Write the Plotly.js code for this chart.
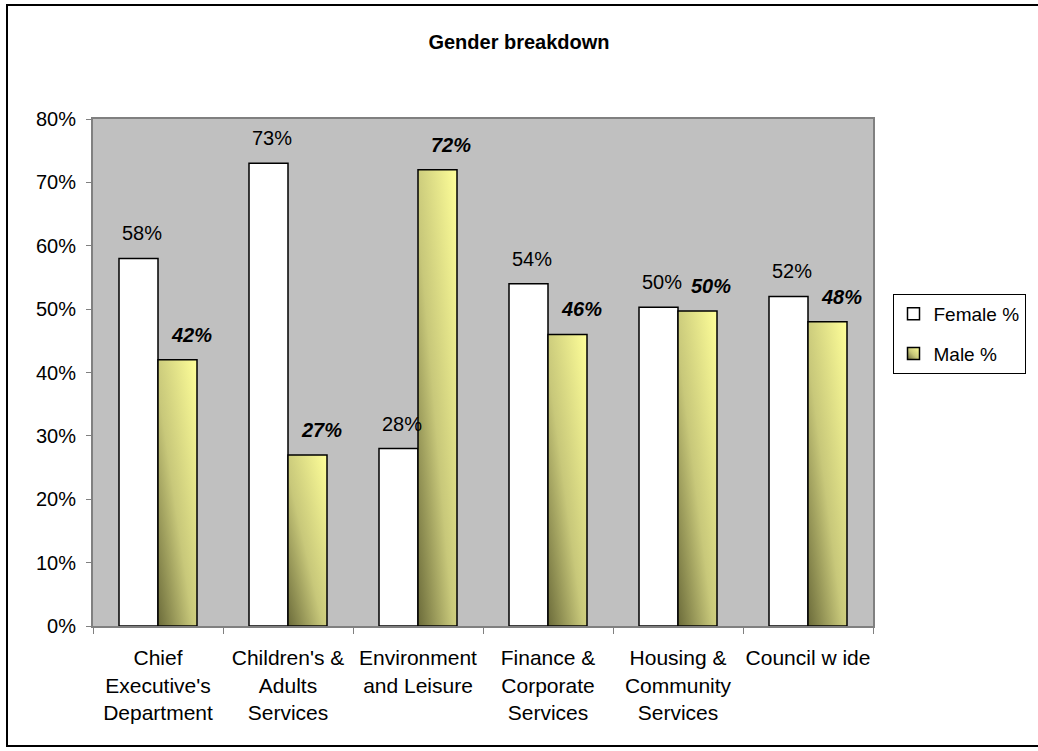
<!DOCTYPE html>
<html><head><meta charset="utf-8">
<script src="https://cdn.plot.ly/plotly-3.0.1.min.js"></script>
<style>
html,body{margin:0;padding:0;background:#fff;overflow:hidden}
#wrap{position:relative;width:1038px;height:751px;overflow:hidden}
#chart{position:absolute;left:0;top:0;width:1038px;height:751px}
#frame{position:absolute;left:6px;top:4px;width:1050px;height:743px;border:2px solid #000;box-sizing:border-box;pointer-events:none}
</style></head><body>
<div id="wrap"><div id="chart"></div><div id="frame"></div></div>
<script>
const categories = [
  "Chief<br>Executive's<br>Department",
  "Children's &<br>Adults<br>Services",
  "Environment<br>and Leisure",
  "Finance &<br>Corporate<br>Services",
  "Housing &<br>Community<br>Services",
  "Council w ide"
];
const femalePct = [58, 73, 28, 54, 50.3, 52];
const malePct = [42, 27, 72, 46, 49.7, 48];
const femaleLabels = ["58%", "73%", "28%", "54%", "50%", "52%"];
const maleLabels = ["42%", "27%", "72%", "46%", "50%", "48%"];
const seriesNames = ["Female %", "Male %"];
const chartTitle = "Gender breakdown";

const FONT = "Liberation Sans, Arial, sans-serif";

const data = [
  {type: "bar", name: seriesNames[0], x: categories, y: femalePct, legendgroup: "f",
   marker: {color: "#FFFFFF", line: {color: "#000000", width: 1.5}}, hoverinfo: "skip"},
  {type: "bar", name: seriesNames[1], x: categories, y: malePct, legendgroup: "m",
   marker: {color: "#D4D482", line: {color: "#000000", width: 1.5}}, hoverinfo: "skip"}
];

const annotations = [];
categories.forEach((c, i) => {
  annotations.push({x: c, y: femalePct[i], xref: "x", yref: "y", text: femaleLabels[i],
    showarrow: false, xshift: -16, yshift: 25, yanchor: "middle",
    font: {family: FONT, size: 20, color: "#000"}});
  annotations.push({x: c, y: malePct[i], xref: "x", yref: "y", text: "<b><i>" + maleLabels[i] + "</i></b>",
    showarrow: false, xshift: 33, yshift: 25, yanchor: "middle",
    font: {family: FONT, size: 20, color: "#000"}});
});

const layout = {
  width: 1038, height: 751,
  margin: {l: 93, r: 145, t: 119, b: 125, pad: 0},
  paper_bgcolor: "#FFFFFF",
  plot_bgcolor: "#C0C0C0",
  font: {family: FONT, size: 20, color: "#000"},
  title: {text: "<b>" + chartTitle + "</b>", x: 0.5, xref: "container", xanchor: "center",
          y: 1 - 42 / 751, yref: "container", yanchor: "middle",
          font: {family: FONT, size: 20, color: "#000"}},
  barmode: "group", bargap: 0.4, bargroupgap: 0,
  xaxis: {type: "category", tickson: "boundaries", ticks: "outside", ticklen: 6, tickcolor: "#808080",
          showline: true, linecolor: "#808080", linewidth: 2, mirror: true, showgrid: false, tickangle: 0,
          tickfont: {family: FONT, size: 21, color: "#000"}, ticklabelstandoff: 12, fixedrange: true},
  yaxis: {range: [0, 80], dtick: 10, ticksuffix: "%", ticks: "outside", ticklen: 5, tickcolor: "#808080",
          showline: true, linecolor: "#808080", linewidth: 2, mirror: true, showgrid: false, zeroline: false,
          tickfont: {family: FONT, size: 20, color: "#000"}, ticklabelstandoff: 6, fixedrange: true},
  legend: {x: 1.025, xanchor: "left", y: (626 - 294) / 507, yanchor: "top",
           bgcolor: "#FFFFFF", bordercolor: "#000000", borderwidth: 1,
           font: {family: FONT, size: 19, color: "#000"}, tracegroupgap: 12, traceorder: "grouped"},
  annotations: annotations,
  showlegend: true
};

Plotly.newPlot("chart", data, layout, {staticPlot: true, displayModeBar: false}).then(gd => {
  const ns = "http://www.w3.org/2000/svg";
  const svg = gd.querySelector(".main-svg");
  let defs = svg.querySelector("defs");
  if (!defs) { defs = document.createElementNS(ns, "defs"); svg.insertBefore(defs, svg.firstChild); }
  const lg = document.createElementNS(ns, "linearGradient");
  lg.setAttribute("id", "maleGrad");
  lg.setAttribute("x1", "0"); lg.setAttribute("y1", "1");
  lg.setAttribute("x2", "1"); lg.setAttribute("y2", "0");
  [["0", "#6B6B3A"], ["0.45", "#C8C87A"], ["1", "#FFFF99"]].forEach(s => {
    const st = document.createElementNS(ns, "stop");
    st.setAttribute("offset", s[0]); st.setAttribute("stop-color", s[1]);
    lg.appendChild(st);
  });
  defs.appendChild(lg);
  const traces = gd.querySelectorAll(".barlayer .trace");
  if (traces[1]) traces[1].querySelectorAll("path").forEach(p => { p.style.fill = "url(#maleGrad)"; });
  const ltr = gd.querySelectorAll(".legend .traces");
  if (ltr[1]) ltr[1].querySelectorAll(".legendpoints path").forEach(p => { p.style.fill = "url(#maleGrad)"; });
});
</script>
</body></html>
